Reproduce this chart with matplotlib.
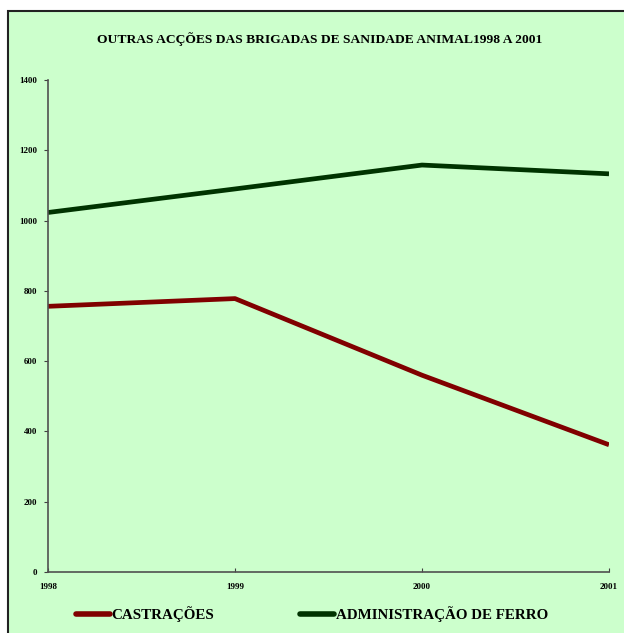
import matplotlib.pyplot as plt
from matplotlib.patches import Rectangle

years = ["1998", "1999", "2000", "2001"]
castracoes = [756, 778, 560, 362]
ferro = [1023, 1090, 1158, 1133]
yticks = [0, 200, 400, 600, 800, 1000, 1200, 1400]

W, H = 624, 633
plt.rcParams['font.family'] = ['Liberation Serif', 'DejaVu Serif']
plt.rcParams['font.weight'] = 'bold'

fig = plt.figure(figsize=(W / 100, H / 100), dpi=100, facecolor='white')

# fundo verde com moldura (cortada a direita e em baixo)
fig.patches.append(Rectangle((8 / W, -0.1), 1.2, (H - 11) / H + 0.1,
                             transform=fig.transFigure, facecolor='#CCFFCC',
                             edgecolor='#222222', linewidth=1.5, zorder=-1))

ax = fig.add_axes([48 / W, (H - 572) / H, (609 - 48) / W, (572 - 80) / H])
ax.set_facecolor('none')
ax.set_zorder(1)

x = range(len(years))
ax.plot(x, castracoes, color='#800000', linewidth=3.4, solid_capstyle='butt', label='CASTRAÇÕES')
ax.plot(x, ferro, color='#003300', linewidth=3.4, solid_capstyle='butt', label='ADMINISTRAÇÃO DE FERRO')

ax.set_xlim(0, 3)
ax.set_ylim(0, 1400)
ax.set_xticks(list(x))
ax.set_xticklabels(years)
ax.set_yticks(yticks)
ax.tick_params(labelsize=6.5, length=3, width=0.8, color='#404040', pad=5)
ax.tick_params(axis='x', direction='in', pad=8)
for s in ['top', 'right']:
    ax.spines[s].set_visible(False)
for s in ['left', 'bottom']:
    ax.spines[s].set_color('#505050')
    ax.spines[s].set_linewidth(1.2)

fig.text(320 / W, 1 - 39 / H, 'OUTRAS ACÇÕES DAS BRIGADAS DE SANIDADE ANIMAL1998 A 2001',
         ha='center', va='center', fontsize=9.7, fontweight='bold')

leg = fig.legend(loc='center', bbox_to_anchor=(312 / W, 1 - 614 / H), ncol=2,
                 frameon=False, handlelength=2.27, handletextpad=0.13,
                 columnspacing=5.7, prop={'weight': 'bold', 'size': 10.8})
for line in leg.get_lines():
    line.set_linewidth(4)
    line.set_solid_capstyle('round')

fig.savefig('out.png', dpi=100, facecolor=fig.get_facecolor())
